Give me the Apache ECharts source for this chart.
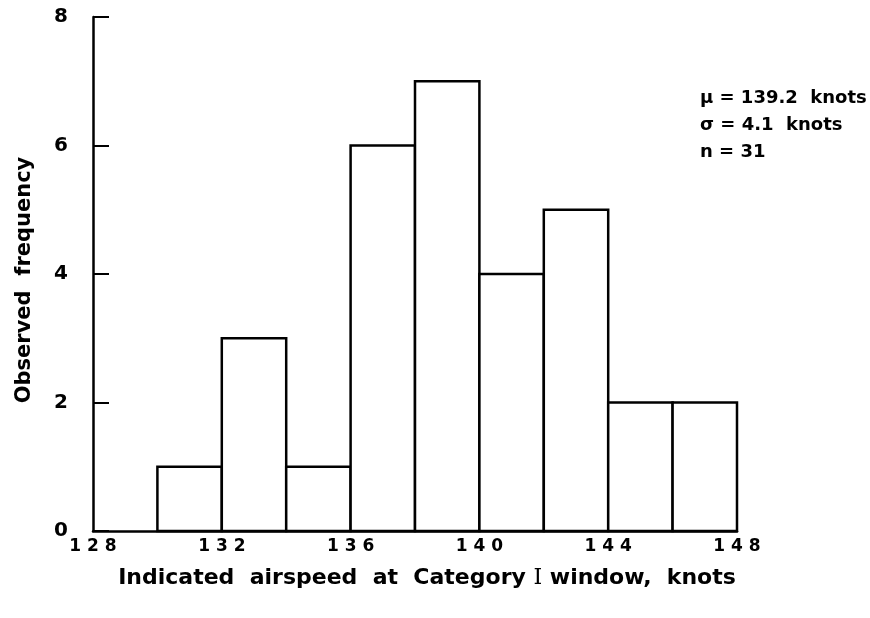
<!DOCTYPE html>
<html>
<head>
<meta charset="utf-8">
<script src="https://cdn.jsdelivr.net/npm/echarts@6/dist/echarts.min.js"></script>
<style>html,body{margin:0;padding:0;background:#fff}#c{width:870px;height:618px}</style>
</head>
<body>
<div id="c"></div>
<script>
// Histogram bins: [lower edge, upper edge]
var binLower = [130, 132, 134, 136, 138, 140, 142, 144, 146];
var binUpper = [132, 134, 136, 138, 140, 142, 144, 146, 148];
var frequency = [1, 3, 1, 6, 7, 4, 5, 2, 2];
var xTicks = [128, 132, 136, 140, 144, 148];
var yTicks = [0, 2, 4, 6, 8];
var statsLines = ['\u03bc = 139.2  knots', '\u03c3 = 4.1  knots', 'n = 31'];

var FONT = '"DejaVu Sans", "Liberation Sans", Arial, sans-serif';
var data = binLower.map(function (lo, i) { return [lo, binUpper[i], frequency[i]]; });

var chart = echarts.init(document.getElementById('c'), null, { renderer: 'canvas' });
chart.setOption({
  animation: false,
  backgroundColor: '#fff',
  grid: { left: 93, right: 133, top: 17, bottom: 87, containLabel: false },
  xAxis: {
    type: 'value',
    min: xTicks[0], max: xTicks[xTicks.length - 1], interval: 4,
    axisLine: { show: true, lineStyle: { color: '#000', width: 2.5 } },
    axisTick: { show: false },
    splitLine: { show: false },
    axisLabel: {
      margin: 7, color: '#000', fontFamily: FONT, fontWeight: 'bold', fontSize: 17,
      formatter: function (v) { return String(v).split('').join(' '); }
    },
    name: 'Indicated  airspeed  at  Category {r|I} window,  knots',
    nameLocation: 'middle', nameGap: 36,
    nameTextStyle: {
      color: '#000', fontFamily: FONT, fontWeight: 'bold', fontSize: 22,
      padding: [0, 0, 0, 24],
      rich: { r: { fontFamily: '"DejaVu Serif", "Liberation Serif", serif', fontSize: 22, fontWeight: 'normal', color: '#000' } }
    }
  },
  yAxis: {
    type: 'value',
    min: yTicks[0], max: yTicks[yTicks.length - 1], interval: 2,
    axisLine: { show: true, lineStyle: { color: '#000', width: 2.5 } },
    axisTick: { show: true, inside: true, length: 16, lineStyle: { color: '#000', width: 2 } },
    splitLine: { show: false },
    axisLabel: { margin: 25, color: '#000', fontFamily: FONT, fontWeight: 'bold', fontSize: 20 },
    name: 'Observed  frequency',
    nameLocation: 'middle', nameGap: 58, nameRotate: 90,
    nameTextStyle: { color: '#000', fontFamily: FONT, fontWeight: 'bold', fontSize: 21, padding: [0, 12, 0, 0] }
  },
  graphic: statsLines.map(function (t, i) {
    return {
      type: 'text', left: 700, top: 89 + i * 27,
      style: { text: t, fill: '#000', font: 'bold 18px ' + FONT }
    };
  }),
  series: [{
    type: 'custom',
    data: data,
    encode: { x: [0, 1], y: 2 },
    renderItem: function (params, api) {
      var p0 = api.coord([api.value(0), api.value(2)]);
      var p1 = api.coord([api.value(1), 0]);
      return {
        type: 'rect',
        shape: { x: p0[0], y: p0[1], width: p1[0] - p0[0], height: p1[1] - p0[1] },
        style: { fill: '#fff', stroke: '#000', lineWidth: 2.5 }
      };
    },
    z: 1
  }]
});
</script>
</body>
</html>
